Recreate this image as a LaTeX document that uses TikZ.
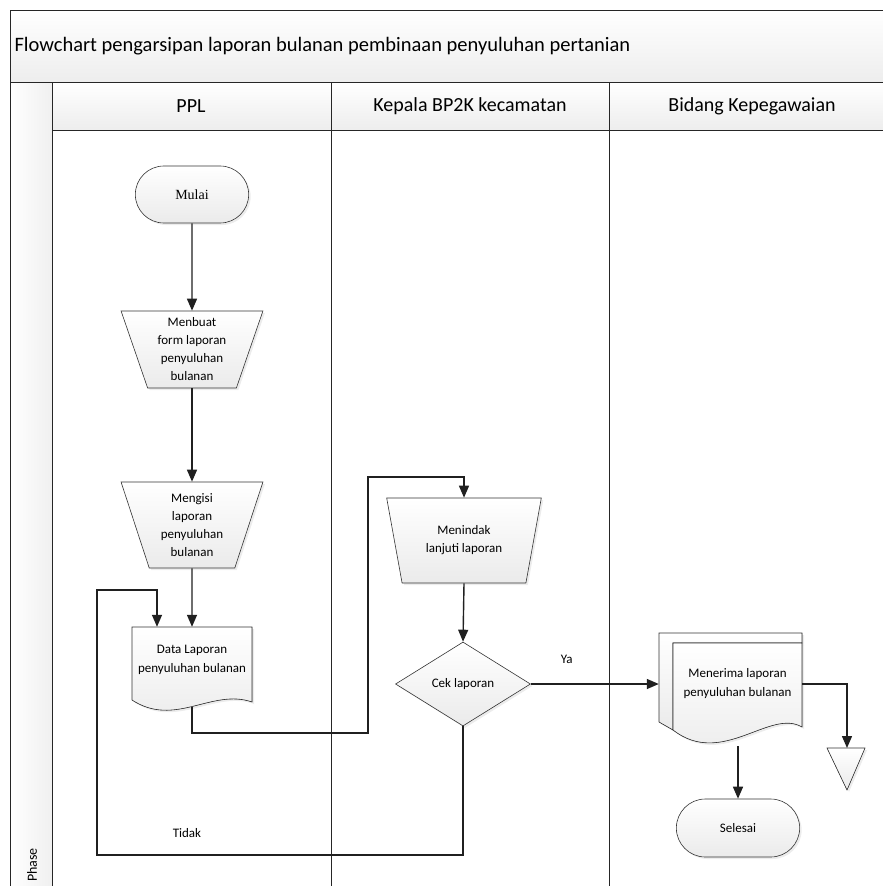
\documentclass[tikz,border=0pt]{standalone}
\usepackage{fontspec}
\setmainfont{Carlito}
\newfontfamily\timesfont{Liberation Serif}
\usetikzlibrary{shapes.geometric,shapes.misc,arrows.meta,shadows}
\tikzset{
  flow/.style={draw=gray!25!black, line width=1.4pt, -{Triangle[length=12pt,width=10pt]}},
  lane/.style={draw=gray!30!black, line width=1pt},
  fcfill/.style={draw=gray!40!black, line width=0.6pt, top color=white, bottom color=gray!16},
  fcbox/.style={fcfill, drop shadow={shadow xshift=2pt, shadow yshift=-2pt, opacity=0.15},
    font=\fontsize{13}{18}\selectfont, align=center},
  terminal/.style={fcbox, rounded rectangle, minimum height=57pt},
  manual/.style={fcbox, trapezium, shape border rotate=180, trapezium left angle=72,
    trapezium right angle=72, trapezium stretches=true, inner sep=0pt},
  decision/.style={fcbox, diamond, minimum width=135pt, minimum height=84pt, inner sep=0pt},
  doctext/.style={font=\fontsize{13}{19}\selectfont, align=center, inner sep=0pt},
  lanehead/.style={font=\fontsize{20}{22}\selectfont},
}
\begin{document}
\begin{tikzpicture}[x=1pt, y=-1pt]
\useasboundingbox (0,0) rectangle (883,886);
\clip (0,0) rectangle (883,886);
% pool and lanes
\path[top color=white, bottom color=gray!14] (10,10) rectangle (900,82);
\path[top color=white, bottom color=gray!14] (52,82) rectangle (900,130);
\path[left color=white, right color=gray!12] (10,82) rectangle (52,900);
\draw[lane] (10,900) -- (10,10) -- (900,10);
\draw[lane] (10,82) -- (900,82);
\draw[lane] (52,130) -- (900,130);
\draw[lane] (52,82) -- (52,900);
\draw[lane] (331,82) -- (331,900);
\draw[lane] (609,82) -- (609,900);
\node[anchor=west, font=\fontsize{20.5}{22}\selectfont] (title) at (11,46) {Flowchart pengarsipan laporan bulanan pembinaan penyuluhan pertanian};
\node[lanehead] (ppl) at (191,106) {PPL};
\node[lanehead] (kepala) at (470,106) {Kepala BP2K kecamatan};
\node[lanehead] (bidang) at (752,106) {Bidang Kepegawaian};
\node[rotate=90, font=\fontsize{14}{16}\selectfont] (phase) at (32,865) {Phase};

% PPL
\node[terminal, minimum width=120pt, font=\timesfont\fontsize{14}{16}\selectfont] (mulai) at (192,194.5) {Mulai};
\node[manual, minimum width=142pt, minimum height=77pt] (menbuat) at (192,349.5) {Menbuat\\form laporan\\penyuluhan\\bulanan};
\node[manual, minimum width=142pt, minimum height=86pt] (mengisi) at (192,525) {Mengisi\\laporan\\penyuluhan\\bulanan};
\filldraw[fcfill, drop shadow={shadow xshift=2pt, shadow yshift=-2pt, opacity=0.15}]
  (132,627) -- (252,627) -- (252,702) .. controls (212,688) and (175,728) .. (132,700) -- cycle;
\node[doctext, minimum width=120pt, minimum height=66pt] (data) at (192,660) {Data Laporan\\penyuluhan bulanan};
\coordinate (dataout) at (192,707);

% Kepala BP2K
\node[manual, minimum width=156pt, minimum height=85pt] (menindak) at (464,540.5) {Menindak\\lanjuti laporan};
\node[decision] (cek) at (463,684) {Cek laporan};

% Bidang Kepegawaian
\filldraw[fcfill, drop shadow={shadow xshift=2pt, shadow yshift=-2pt, opacity=0.15}]
  (659,633) -- (802,633) -- (802,643) -- (673,643) -- (673,730) -- (659,722) -- cycle;
\filldraw[fcfill, drop shadow={shadow xshift=2pt, shadow yshift=-2pt, opacity=0.15}]
  (673,643) -- (802,643) -- (802,727) .. controls (770,708) and (722,768) .. (673,730) -- cycle;
\node[doctext, minimum width=129pt, minimum height=80pt] (menerima) at (737.5,684) {Menerima laporan\\penyuluhan bulanan};
\coordinate (menout) at (738,746);
\node[terminal, minimum width=130pt, minimum height=58pt] (selesai) at (738,828) {Selesai};
\filldraw[fcfill, drop shadow={shadow xshift=2pt, shadow yshift=-2pt, opacity=0.15}]
  (827,748) -- (865,748) -- (847,790) -- cycle;
\coordinate (offpage) at (847,748);

% connectors
\draw[flow] (mulai.south) -- (menbuat.north);
\draw[flow] (menbuat.south) -- (mengisi.north);
\draw[flow] (mengisi.south) -- (data.north);
\coordinate (bendA) at (368,733);
\coordinate (bendB) at (368,477);
\draw[flow] (dataout) |- (bendA) -- (bendB) -| (menindak.north);
\draw[flow] (menindak.south) -- (cek.north);
\draw[flow] (cek.east) -- ([xshift=-14pt]menerima.west) node[pos=0.28, above=16pt, font=\fontsize{13}{15}\selectfont] (ya) {Ya};
\coordinate (loopA) at (97,855);
\coordinate (loopB) at (157,590);
\draw[flow] (cek.south) |- (loopA) |- (loopB) -- ([xshift=-35pt]data.north);
\node[font=\fontsize{13}{15}\selectfont] (tidak) at (187,833) {Tidak};
\draw[flow] (menerima.east) -| (offpage);
\draw[flow] (menout) -- (selesai.north);
\end{tikzpicture}
\end{document}
